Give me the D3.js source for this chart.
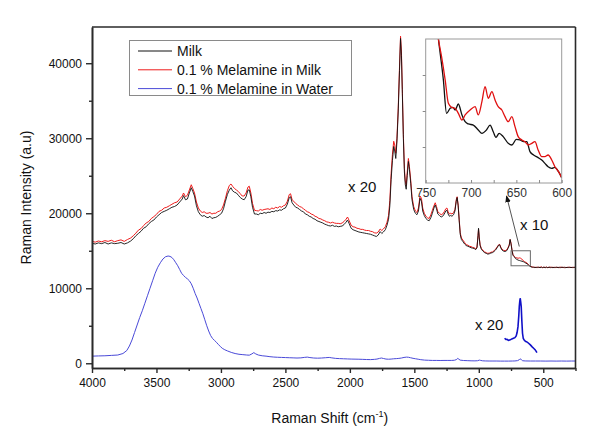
<!DOCTYPE html>
<html><head><meta charset="utf-8">
<script src="https://cdn.jsdelivr.net/npm/d3@7/dist/d3.min.js"></script>
<style>html,body{margin:0;padding:0;background:#fff}svg{display:block}</style>
</head><body>
<svg id="chart" width="614" height="429"></svg>
<script>
// ---------------- DATA ----------------
const wavenumbers = [4000,3975,3950,3925,3900,3875,3850,3825,3800,3775,3750,3725,3700,3680,3660,3640,3620,3600,3580,3560,3540,3520,3500,3480,3460,3440,3420,3400,3380,3360,3340,3320,3300,3290,3275,3260,3245,3230,3218,3205,3190,3175,3160,3145,3130,3115,3100,3085,3070,3055,3040,3025,3010,2995,2980,2965,2950,2935,2922,2910,2895,2880,2865,2850,2835,2820,2805,2790,2780,2768,2755,2740,2725,2710,2695,2680,2665,2650,2635,2620,2605,2590,2575,2560,2545,2530,2515,2500,2485,2470,2460,2448,2435,2420,2405,2390,2375,2360,2345,2330,2315,2300,2285,2270,2255,2240,2225,2210,2195,2180,2165,2150,2135,2120,2105,2090,2075,2060,2045,2030,2018,2005,1990,1975,1960,1945,1930,1915,1900,1885,1870,1855,1840,1825,1810,1795,1780,1765,1752,1740,1725,1712,1700,1690,1680,1670,1660,1652,1644,1635,1625,1615,1607,1600,1593,1585,1577,1570,1563,1555,1546,1538,1528,1518,1505,1492,1480,1468,1456,1445,1435,1423,1410,1398,1385,1372,1360,1348,1338,1328,1318,1305,1292,1280,1268,1256,1247,1238,1228,1218,1208,1196,1185,1175,1168,1160,1152,1144,1135,1122,1110,1098,1085,1072,1060,1048,1036,1024,1014,1006,1002,997,990,980,968,955,942,930,918,906,894,882,870,858,846,838,830,820,808,796,784,774,764,757,750,743,735,725,715,705,695,685,675,665,655,645,635,625,615,605,595,585,575,565,555,545,535,525,515,505,495,485,475,465,455,445,435,425,415,405,395,385,375,365,355,345,335,325,315,305,295,285,275,265,255,250];

const milk = [16000,15900,16050,15950,16100,15900,16050,15950,16000,16100,15900,16050,16300,16600,17000,17300,17600,18000,18200,18600,18900,19100,19500,19800,20100,20250,20400,20600,20800,20900,21100,21500,21900,22350,21800,21900,22700,23400,22900,22300,21000,20200,19800,19600,19700,19500,19400,19600,19300,19400,19450,19600,19800,20000,20600,21600,22500,23100,23400,23000,22800,22700,22400,22100,21900,21800,22200,23100,23100,22200,20800,19900,19900,19800,20000,19950,20100,20000,20150,20100,20250,20200,20350,20300,20450,20400,20600,20700,21200,22100,22200,21400,21100,20800,20700,20500,20300,20200,19900,19800,19600,19500,19300,19200,19000,18900,18800,18700,18550,18450,18350,18300,18400,18250,18300,18200,18250,18300,18500,18800,19100,18600,18000,17800,17700,17600,17500,17450,17400,17350,17300,17250,17200,17100,17000,16900,17100,17550,17300,17500,17800,18400,19200,21000,24500,27000,28900,28300,27300,29500,33500,39000,43300,41000,36000,30000,25500,23800,23200,25000,26900,25800,24000,21800,20500,20000,19800,20300,22000,21600,20300,19700,19300,19100,19000,19400,20000,20700,21100,20600,19900,19700,19500,19600,19900,20300,20400,19900,19600,19700,19600,19800,20300,21600,22100,21000,19000,17200,16500,16200,15900,15700,15600,15500,15400,15350,15300,15150,15400,17000,18000,16800,15700,15200,14950,14750,14650,14550,14600,14700,14750,14900,15100,15400,15750,15800,15400,15100,14950,14900,15000,15300,15700,16500,15900,15100,14400,14200,13950,13850,13750,13700,13650,13600,13550,13450,13350,13250,13100,12950,12850,12800,12820,12750,12800,12760,12820,12740,12800,12760,12820,12740,12800,12760,12810,12750,12800,12740,12790,12760,12820,12740,12800,12750,12820,12760,12800,12740,12790,12760,12810,12750,12790,12760,12800,12760];

const melamineInMilk = [16250,16150,16300,16200,16350,16250,16400,16200,16350,16450,16250,16500,16700,17000,17350,17750,17950,18350,18700,18900,19300,19550,19850,20250,20400,20700,20800,21000,21200,21400,21500,21900,22300,22700,22200,22400,23100,23800,23300,22700,21500,20700,20300,20100,20200,20000,20000,20100,19900,20000,20000,20200,20300,20500,21100,22000,23000,23700,23900,23600,23300,23100,22900,22600,22300,22300,22700,23500,23600,22700,21300,20400,20350,20300,20500,20400,20500,20550,20600,20500,20700,20600,20800,20700,20900,20800,21000,21100,21600,22500,22600,21800,21600,21300,21100,20900,20800,20600,20400,20200,20100,19900,19800,19600,19500,19300,19250,19100,19000,18850,18800,18700,18800,18700,18650,18650,18600,18700,18900,19200,19500,19000,18400,18200,18150,18000,17950,17850,17850,17750,17700,17700,17600,17550,17400,17350,17500,17900,17700,17900,18200,18800,19700,21700,25300,27800,29600,29100,28000,30000,34000,39500,43600,41500,36500,30500,26000,24300,23700,25500,27300,26200,24400,22200,20900,20300,20100,20700,22300,22000,20700,20000,19600,19400,19300,19800,20400,21000,21400,20900,20200,20000,19800,19900,20200,20600,20700,20200,19900,20000,19900,20100,20500,21800,22200,21100,19200,17400,16700,16400,16100,15800,15750,15600,15550,15450,15400,15250,15500,17000,17900,16900,15800,15300,15050,14850,14750,14650,14700,14800,14850,15000,15200,15500,15800,15850,15500,15200,15050,15000,15100,15400,15800,16500,16000,15200,14500,14250,14100,14050,14000,14050,14000,13850,13700,13550,13450,13350,13150,13000,12900,12850,12780,12820,12750,12830,12760,12800,12850,12740,12800,12780,12830,12740,12800,12820,12760,12810,12750,12800,12760,12800,12750,12820,12760,12800,12740,12790,12760,12820,12760,12800,12750,12800,12770,12790];

const waterWavenumbers = [4000,3950,3900,3850,3800,3760,3730,3710,3690,3670,3650,3630,3610,3590,3570,3550,3530,3510,3490,3470,3450,3430,3410,3395,3380,3365,3350,3335,3320,3305,3290,3275,3260,3245,3230,3215,3200,3185,3170,3155,3140,3125,3110,3095,3080,3065,3050,3035,3020,3005,2990,2970,2950,2920,2890,2860,2830,2800,2780,2760,2745,2730,2710,2680,2650,2620,2590,2560,2530,2500,2470,2440,2410,2380,2350,2330,2310,2280,2250,2220,2190,2160,2140,2110,2080,2050,2020,1990,1960,1930,1900,1870,1840,1810,1790,1770,1755,1740,1720,1700,1680,1660,1640,1620,1600,1580,1560,1545,1530,1510,1490,1470,1450,1420,1390,1360,1330,1300,1270,1240,1210,1190,1175,1163,1155,1145,1120,1090,1060,1030,1010,995,985,970,950,920,890,860,830,800,770,740,720,700,688,680,675,668,660,640,600,560,520,480,440,400,360,320,280,250];

const melamineInWater = [950,980,1000,1050,1100,1300,1700,2300,3100,4100,5100,6100,7000,8000,9000,10000,11000,12000,12800,13400,13900,14200,14300,14250,14100,13800,13400,13000,12500,12000,11700,11450,11250,11000,10600,10000,9300,8700,8000,7300,6600,5800,5000,4300,3700,3300,3050,2800,2500,2250,2000,1800,1650,1450,1300,1200,1150,1100,1080,1250,1420,1250,1100,1000,950,880,830,800,780,760,740,720,700,720,790,820,760,700,680,700,740,780,720,650,620,600,580,560,550,540,520,500,490,520,560,650,700,640,560,540,560,600,620,650,700,780,820,800,740,660,600,540,480,420,400,380,380,370,380,380,380,400,480,650,550,420,370,350,330,320,340,420,380,330,310,300,300,300,290,290,290,300,310,350,450,600,560,430,340,310,300,300,300,290,300,290,300,290,300,300];

const waterX20Wavenumbers = [800,790,781,770,756,744,731,720,710,703,696,690,686,682,679,675,671,666,661,655,648,640,632,622,614,600,588,575,562,549];
const melamineInWaterX20 = [3340,3180,3200,3050,3120,3250,3340,3420,3640,4100,4880,6300,7550,8300,8670,8200,7550,5600,4000,3300,3110,2950,2880,2780,2670,2450,2220,2000,1780,1410];

// inset (x10 zoom of 750-600 cm-1)
const insetMilkWavenumbers = [741,736,730.5,727,723,720,717.5,714,710,706.5,703,697.5,692,688,683,679,675.5,672.5,669,664.5,659,655,650,646,642,638.5,635,631,626,622,618.5,615,611,607.5,603.5,600];
const insetMilk = [14950,14500,14044,13674,13730,13741,13711,13778,13656,13581,13556,13544,13489,13452,13489,13544,13470,13407,13452,13415,13341,13322,13385,13378,13359,13359,13248,13211,13182,13156,13118,13081,13063,13074,13026,12960];
const insetMelamineWavenumbers = [741,736,732.5,728.5,725,721.5,717.5,714,710,706.5,701,695.5,692,688,684.5,681,677,673.5,670,666,662.5,659,655,651.5,648,644,640.5,637,633,629.5,626,622,618.5,615,611,607.5,603.5,600];
const insetMelamine = [14950,14500,14304,14044,13785,13741,13730,13674,13600,13656,13711,13748,13656,13804,13970,13841,13915,13822,13748,13711,13637,13581,13637,13526,13415,13378,13359,13322,13341,13359,13267,13193,13193,13211,13156,13081,13026,12960];

const xTickValues = [4000,3500,3000,2500,2000,1500,1000,500];
const yTickValues = [0,10000,20000,30000,40000];
const insetXTickValues = [750,700,650,600];
const insetYTickValues = [13300,13700,14100];
const legendLabels = ["Milk","0.1 % Melamine in Milk","0.1 % Melamine in Water"];
const seriesColors = ["#111111","#ee1c1c","#4a4ad8"];

// ---------------- LAYOUT ----------------
const FONT = "'Liberation Sans', Arial, Helvetica, sans-serif";
const svg = d3.select("#chart");
const L = 92, R = 575.5, T = 27, B = 368;
const x = d3.scaleLinear().domain([4000, 250]).range([L, R]);
const y = d3.scaleLinear().domain([-630, 44830]).range([B, T]);
const intFmt = d3.format("d");

const axisColor = "#2a2a2a";

const line = d3.line().x(d => x(d[0])).y(d => y(d[1]));
const zip = (a, b) => a.map((v, i) => [v, b[i]]);

svg.append("clipPath").attr("id","mainclip").append("rect")
  .attr("x", L).attr("y", T).attr("width", R - L).attr("height", B - T);
const gMain = svg.append("g").attr("clip-path","url(#mainclip)");

gMain.append("path").datum(zip(waterWavenumbers, melamineInWater))
  .attr("d", line).attr("fill","none").attr("stroke", seriesColors[2]).attr("stroke-width",1);
gMain.append("path").datum(zip(wavenumbers, melamineInMilk))
  .attr("d", line).attr("fill","none").attr("stroke", seriesColors[1]).attr("stroke-width",1);
gMain.append("path").datum(zip(wavenumbers, milk))
  .attr("d", line).attr("fill","none").attr("stroke", seriesColors[0]).attr("stroke-width",0.9);
gMain.append("path").datum(zip(waterX20Wavenumbers, melamineInWaterX20))
  .attr("d", line).attr("fill","none").attr("stroke", "#1010c8").attr("stroke-width",1.6);

// axes
const xAxis = svg.append("g").attr("transform", `translate(0,${B})`)
  .call(d3.axisBottom(x).tickValues(xTickValues).tickSize(5).tickSizeOuter(0).tickPadding(5).tickFormat(intFmt));
const xMinor = svg.append("g").attr("transform", `translate(0,${B})`)
  .call(d3.axisBottom(x).tickValues(d3.range(3750, 249, -500)).tickSize(3).tickSizeOuter(0).tickFormat(""));
const yAxis = svg.append("g").attr("transform", `translate(${L},0)`)
  .call(d3.axisLeft(y).tickValues(yTickValues).tickSize(6).tickSizeOuter(0).tickPadding(4).tickFormat(intFmt));
const yMinor = svg.append("g").attr("transform", `translate(${L},0)`)
  .call(d3.axisLeft(y).tickValues(d3.range(5000, 45000, 10000)).tickSize(3).tickSizeOuter(0).tickFormat(""));

[xAxis, xMinor, yAxis, yMinor].forEach(g => {
  g.select(".domain").attr("stroke", axisColor).attr("stroke-width", 1.6);
  g.selectAll(".tick line").attr("stroke", axisColor).attr("stroke-width", 1.4);
  g.selectAll("text").attr("font-family", FONT).attr("font-size", 12).attr("fill", "#111");
});
svg.append("line").attr("x1", L).attr("x2", R).attr("y1", T).attr("y2", T)
  .attr("stroke", axisColor).attr("stroke-width", 1.6);
svg.append("line").attr("x1", R).attr("x2", R).attr("y1", T).attr("y2", B)
  .attr("stroke", axisColor).attr("stroke-width", 1.6);

// axis titles
const xt = svg.append("text").attr("x", (L + R) / 2 - 4).attr("y", 423)
  .attr("text-anchor","middle").attr("font-family", FONT).attr("font-size", 14).attr("fill","#111");
xt.append("tspan").text("Raman Shift (cm");
xt.append("tspan").attr("font-size", 9).attr("dy", -6).text("-1");
xt.append("tspan").attr("dy", 6).text(")");

svg.append("text").attr("transform", `translate(31,${(T + B) / 2}) rotate(-90)`)
  .attr("text-anchor","middle").attr("font-family", FONT).attr("font-size", 14).attr("fill","#111")
  .text("Raman Intensity (a.u)");

// legend
const lg = svg.append("g");
lg.append("rect").attr("x", 129.5).attr("y", 40.5).attr("width", 222).attr("height", 55)
  .attr("fill","#fff").attr("stroke","#8a8a8a").attr("stroke-width",1);
legendLabels.forEach((t, i) => {
  const yy = 51 + i * 18.8;
  lg.append("line").attr("x1", 138).attr("x2", 172).attr("y1", yy).attr("y2", yy)
    .attr("stroke", seriesColors[i]).attr("stroke-width", 1);
  lg.append("text").attr("x", 177).attr("y", yy).attr("dy", "0.36em")
    .attr("font-family", FONT).attr("font-size", 14).attr("fill","#111").text(t);
});

// annotations
const ann = [
  {t: "x 20", px: 348, py: 191.7},
  {t: "x 10", px: 520, py: 230},
  {t: "x 20", px: 475, py: 329.5}
];
ann.forEach(a => svg.append("text").attr("x", a.px).attr("y", a.py)
  .attr("font-family", FONT).attr("font-size", 15).attr("fill","#111").text(a.t));

// zoom box on main curve
svg.append("rect").attr("x", x(750)).attr("y", y(15000))
  .attr("width", x(600) - x(750)).attr("height", y(13000) - y(15000))
  .attr("fill","none").attr("stroke","#6a6a6a").attr("stroke-width",1);

// arrow
svg.append("defs").append("marker").attr("id","arrowhead")
  .attr("viewBox","0 0 10 10").attr("refX",9).attr("refY",5)
  .attr("markerWidth",7).attr("markerHeight",7).attr("orient","auto-start-reverse")
  .append("path").attr("d","M0,1 L10,5 L0,9 Z").attr("fill","#111");
svg.append("line").attr("x1", 519.3).attr("y1", 246.5).attr("x2", 506.5).attr("y2", 196)
  .attr("stroke","#555").attr("stroke-width",1).attr("marker-end","url(#arrowhead)");

// inset
const IL = 425.7, IR = 561.7, IT = 39, IB = 183;
const ix = d3.scaleLinear().domain([750, 600]).range([IL, IR]);
const iy = d3.scaleLinear().domain([12900, 14500]).range([IB, IT]);
svg.append("rect").attr("x", IL).attr("y", IT).attr("width", IR - IL).attr("height", IB - IT)
  .attr("fill","#fff").attr("stroke","none");
svg.append("clipPath").attr("id","insetclip").append("rect")
  .attr("x", IL).attr("y", IT).attr("width", IR - IL).attr("height", IB - IT + 1);
const gi = svg.append("g").attr("clip-path","url(#insetclip)");
const iline = d3.line().x(d => ix(d[0])).y(d => iy(d[1])).curve(d3.curveMonotoneX);
gi.append("path").datum(zip(insetMilkWavenumbers, insetMilk).reverse()).attr("d", iline)
  .attr("fill","none").attr("stroke","#111").attr("stroke-width",1.3);
gi.append("path").datum(zip(insetMelamineWavenumbers, insetMelamine).reverse()).attr("d", iline)
  .attr("fill","none").attr("stroke","#e01010").attr("stroke-width",1.3);
svg.append("rect").attr("x", IL).attr("y", IT).attr("width", IR - IL).attr("height", IB - IT)
  .attr("fill","none").attr("stroke","#9a9a9a").attr("stroke-width",1);

const ixAxis = svg.append("g").attr("transform", `translate(0,${IB})`)
  .call(d3.axisTop(ix).tickValues(d3.range(750, 599, -25)).tickSize(3).tickSizeOuter(0).tickFormat(""));
const ixLabels = svg.append("g").attr("transform", `translate(0,${IB})`)
  .call(d3.axisBottom(ix).tickValues(insetXTickValues).tickSize(0).tickPadding(5).tickSizeOuter(0).tickFormat(intFmt));
const iyAxis = svg.append("g").attr("transform", `translate(${IL},0)`)
  .call(d3.axisLeft(iy).tickValues(insetYTickValues).tickSize(3).tickSizeOuter(0).tickFormat(""));
[ixAxis, ixLabels, iyAxis].forEach(g => {
  g.select(".domain").remove();
  g.selectAll(".tick line").attr("stroke","#8a8a8a").attr("stroke-width",1);
  g.selectAll("text").attr("font-family", FONT).attr("font-size", 12).attr("fill","#333");
});
</script>
</body></html>
